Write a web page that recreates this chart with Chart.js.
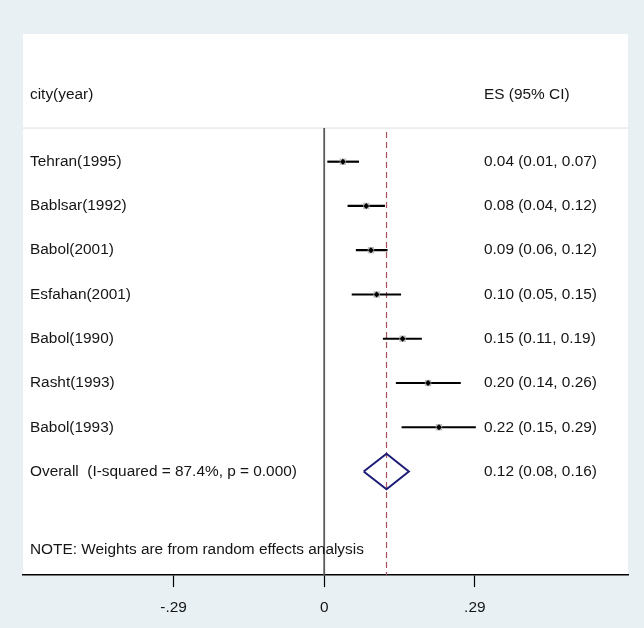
<!DOCTYPE html>
<html>
<head>
<meta charset="utf-8">
<script src="https://cdn.jsdelivr.net/npm/chart.js@4.4.0/dist/chart.umd.min.js"></script>
<style>
  html, body { margin: 0; padding: 0; background: #e8f0f3; }
  canvas { display: block; }
</style>
</head>
<body>
<canvas id="forest" width="644" height="628"></canvas>
<script>
// study rows, top to bottom
const studies = ['Tehran(1995)', 'Bablsar(1992)', 'Babol(2001)', 'Esfahan(2001)', 'Babol(1990)', 'Rasht(1993)', 'Babol(1993)'];
const esValues = [0.036, 0.081, 0.090, 0.101, 0.151, 0.200, 0.221];
const ciLow = [0.006, 0.045, 0.061, 0.053, 0.113, 0.138, 0.149];
const ciHigh = [0.067, 0.117, 0.122, 0.148, 0.188, 0.263, 0.292];
const esLabels = ['0.04 (0.01, 0.07)', '0.08 (0.04, 0.12)', '0.09 (0.06, 0.12)', '0.10 (0.05, 0.15)',
                  '0.15 (0.11, 0.19)', '0.20 (0.14, 0.26)', '0.22 (0.15, 0.29)'];

// pooled estimate: es, low, high
const overallValues = [0.12, 0.076, 0.163];
const overallName = 'Overall  (I-squared = 87.4%, p = 0.000)';
const overallLabel = '0.12 (0.08, 0.16)';

const xTicks = [-0.29, 0, 0.29];
const tickLabels = ['-.29', '0', '.29'];

const FONT_FAMILY = '"Liberation Sans", Arial, sans-serif';
const FONT_SIZE = 15.4;
const overallRow = studies.length + 1;
const Y_MIN = -1.885, Y_MAX = 10.34;

var datasets = [];

// point estimates (black) and weight boxes (grey)
datasets.push({
    data: esValues.map((v, i) => ({ x: v, y: i + 1 })),
    pointStyle: 'rectRot', pointRadius: 3, backgroundColor: '#000', borderWidth: 0, order: 0
});
datasets.push({
    data: esValues.map((v, i) => ({ x: v, y: i + 1 })),
    pointStyle: 'rect', pointRadius: 4.5, backgroundColor: '#bdbdbd', borderWidth: 0, order: 1
});

// confidence intervals
studies.forEach((s, i) => {
    datasets.push({
        data: [{ x: ciLow[i], y: i + 1 }, { x: ciHigh[i], y: i + 1 }],
        showLine: true, borderColor: '#000', borderWidth: 2.2, pointRadius: 0, order: 2
    });
});

// overall diamond
datasets.push({
    data: [
        { x: overallValues[1], y: overallRow },
        { x: overallValues[0], y: overallRow - 0.4 },
        { x: overallValues[2], y: overallRow },
        { x: overallValues[0], y: overallRow + 0.4 },
        { x: overallValues[1], y: overallRow }
    ],
    showLine: true, borderColor: '#1c1c78', borderWidth: 2, pointRadius: 0, order: 3
});

// dashed line at pooled estimate
datasets.push({
    data: [{ x: overallValues[0], y: 0.33 }, { x: overallValues[0], y: Y_MAX }],
    showLine: true, borderColor: '#a8505c', borderWidth: 1.2, borderDash: [6, 4], pointRadius: 0, order: 4
});

// line of no effect
datasets.push({
    data: [{ x: 0, y: 0.24 }, { x: 0, y: Y_MAX }],
    showLine: true, borderColor: '#5a5a5a', borderWidth: 1.8, pointRadius: 0, order: 5
});

// faint rule under the header
datasets.push({
    data: [{ x: -0.58, y: 0.24 }, { x: 0.585, y: 0.24 }],
    showLine: true, borderColor: '#dedede', borderWidth: 1, pointRadius: 0, order: 6
});

const backdrop = {
    id: 'backdrop',
    beforeDraw(chart) {
        const c = chart.ctx, a = chart.chartArea;
        c.save();
        c.fillStyle = '#e8f0f3';
        c.fillRect(0, 0, chart.width, chart.height);
        c.fillStyle = '#ffffff';
        c.fillRect(a.left, a.top, a.right - a.left, a.bottom - a.top);
        c.restore();
    },
    afterDraw(chart) {
        const c = chart.ctx, a = chart.chartArea, ys = chart.scales.y;
        const leftX = a.left + 7;
        const rightX = a.left + 461;
        c.save();
        c.font = FONT_SIZE + 'px ' + FONT_FAMILY;
        c.fillStyle = '#151515';
        c.textBaseline = 'middle';
        c.textAlign = 'left';
        c.fillText('city(year)', leftX, ys.getPixelForValue(-0.506));
        c.fillText('ES (95% CI)', rightX, ys.getPixelForValue(-0.506));
        studies.forEach((s, i) => {
            c.fillText(s, leftX, ys.getPixelForValue(i + 1));
            c.fillText(esLabels[i], rightX, ys.getPixelForValue(i + 1));
        });
        c.fillText(overallName, leftX, ys.getPixelForValue(overallRow));
        c.fillText(overallLabel, rightX, ys.getPixelForValue(overallRow));
        c.fillText('NOTE: Weights are from random effects analysis', leftX, ys.getPixelForValue(9.76));
        c.restore();
    }
};

new Chart(document.getElementById('forest'), {
    type: 'scatter',
    data: { datasets: datasets },
    options: {
        responsive: false,
        devicePixelRatio: 1,
        animation: false,
        layout: { padding: { left: 23, right: 16, top: 34, bottom: 0 } },
        plugins: { legend: { display: false }, tooltip: { enabled: false } },
        scales: {
            x: {
                type: 'linear',
                min: -0.58,
                max: 0.585,
                afterBuildTicks: function(scale) {
                    scale.ticks = xTicks.map(v => ({ value: v }));
                },
                ticks: {
                    autoSkip: false,
                    maxRotation: 0,
                    padding: 12.75,
                    color: '#151515',
                    font: { family: FONT_FAMILY, size: FONT_SIZE, lineHeight: 1.0 },
                    callback: function(v, i) { return tickLabels[i]; }
                },
                grid: { drawOnChartArea: false, drawTicks: true, tickLength: 12, tickColor: '#000', tickWidth: 1.2 },
                border: { display: true, color: '#000', width: 1.5 }
            },
            y: { type: 'linear', reverse: true, min: Y_MIN, max: Y_MAX, display: false }
        }
    },
    plugins: [backdrop]
});
</script>
</body>
</html>
